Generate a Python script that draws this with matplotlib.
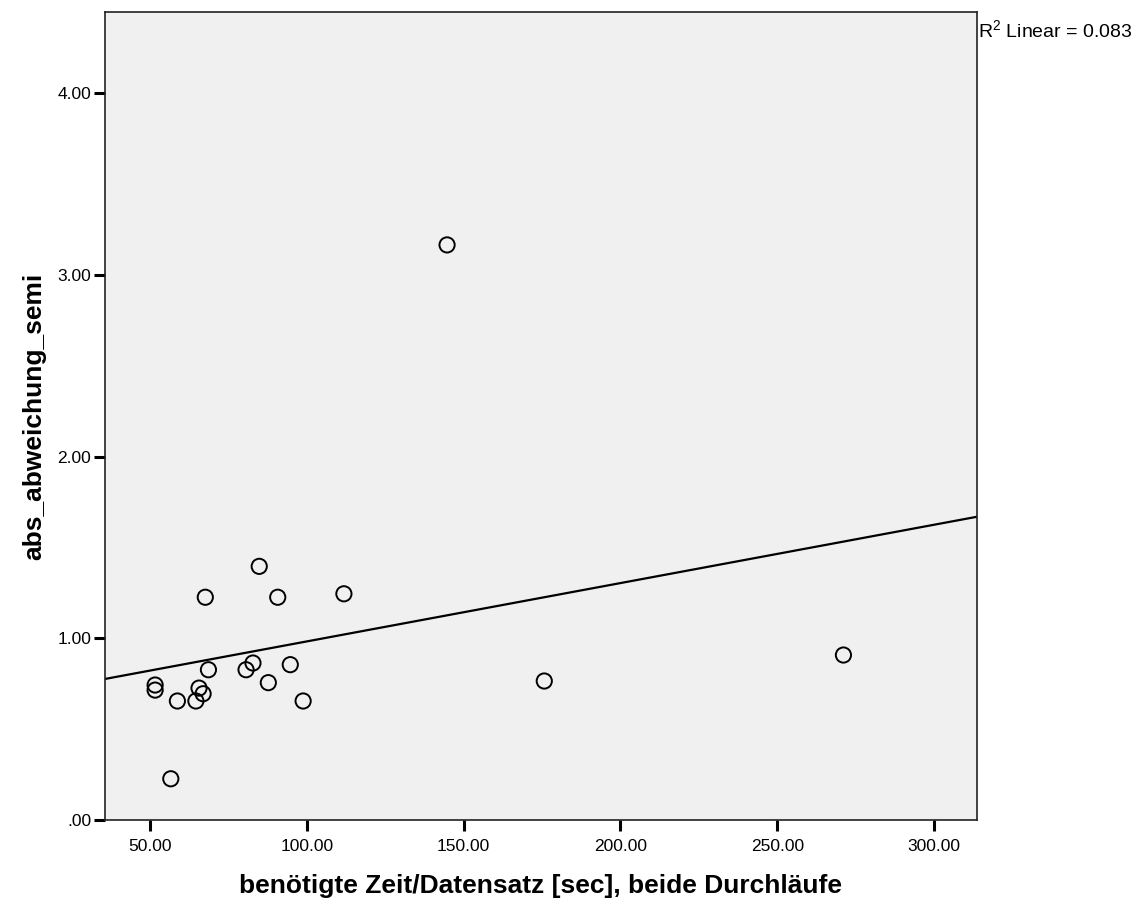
import numpy as np
import matplotlib
matplotlib.use("Agg")
import matplotlib.pyplot as plt

# data
zeit = [51.6, 51.6, 58.7, 56.6, 64.6, 65.6, 66.9, 67.6, 68.6, 80.6, 82.8,
        84.8, 87.7, 90.7, 94.7, 98.8, 111.8, 144.7, 175.7, 271.1]
abweichung = [0.743, 0.715, 0.655, 0.227, 0.655, 0.726, 0.695, 1.226, 0.827,
              0.827, 0.864, 1.396, 0.756, 1.226, 0.855, 0.655, 1.245, 3.165,
              0.765, 0.908]
x_ticks = [50, 100, 150, 200, 250, 300]
y_ticks = [0, 1, 2, 3, 4]
y_tick_labels = [".00", "1.00", "2.00", "3.00", "4.00"]
x_tick_labels = ["50.00", "100.00", "150.00", "200.00", "250.00", "300.00"]
r2_text = "R$^2$ Linear = 0.083"
# fit line as displayed
fit_intercept = 0.662
fit_slope = 0.00321

plt.rcParams['font.family'] = ['Liberation Sans', 'DejaVu Sans']
plt.rcParams['mathtext.fontset'] = 'custom'
plt.rcParams['mathtext.rm'] = 'Liberation Sans'

fig = plt.figure(figsize=(11.47, 9.06), dpi=100)
ax = fig.add_axes([0.0915, 0.0949, 0.8518 - 0.0915, 0.9868 - 0.0949])
ax.set_facecolor('#f0f0f0')

xlim = (35.6, 313.7)
ylim = (0, 4.447)
ax.set_xlim(*xlim)
ax.set_ylim(*ylim)

xs = np.array(xlim)
ax.plot(xs, fit_intercept + fit_slope * xs, color='black', lw=1.6, zorder=2)
ax.scatter(zeit, abweichung, s=120, facecolors='none', edgecolors='black',
           linewidths=1.4, zorder=3)

ax.set_xticks(x_ticks)
ax.set_xticklabels(x_tick_labels, fontsize=12.5)
ax.set_yticks(y_ticks)
ax.set_yticklabels(y_tick_labels, fontsize=12.5)
ax.tick_params(axis='both', direction='out', length=8, width=2.2, color='black')
ax.tick_params(axis='x', pad=6)
ax.tick_params(axis='y', pad=2)
for sp in ax.spines.values():
    sp.set_linewidth(1.2)
    sp.set_color('#222222')

ax.set_xlabel("benötigte Zeit/Datensatz [sec], beide Durchläufe", fontsize=19,
              fontweight='bold', labelpad=14)
ax.set_ylabel("abs_abweichung_semi", fontsize=19, fontweight='bold', labelpad=8)

fig.text(978 / 1147, 1 - 31 / 906, r2_text, fontsize=14, va='center', ha='left')

fig.savefig("out.png", dpi=100, facecolor='white')
